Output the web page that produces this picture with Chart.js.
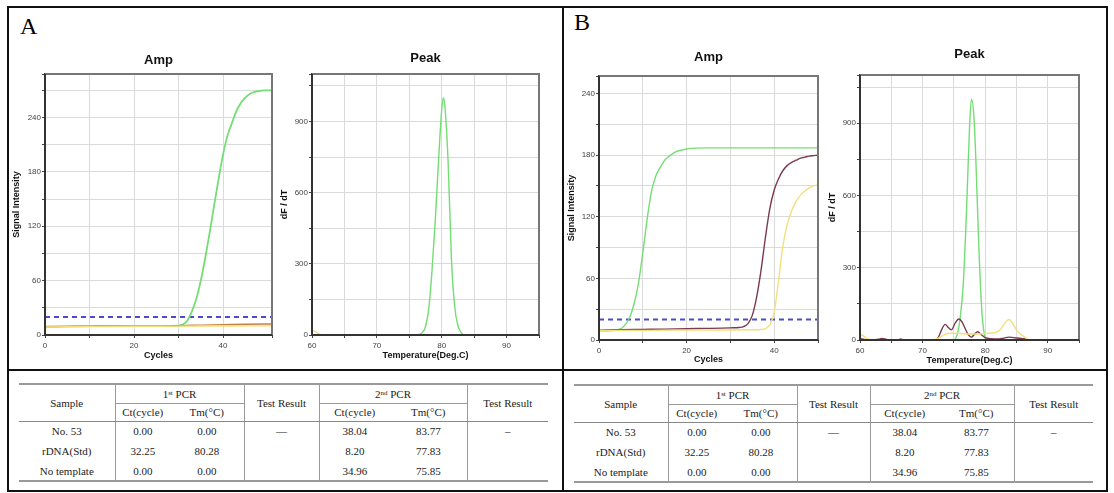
<!DOCTYPE html>
<html><head><meta charset="utf-8">
<script src="https://cdn.jsdelivr.net/npm/chart.js@4.4.0/dist/chart.umd.min.js"></script>
<style>
html,body{margin:0;padding:0;background:#fff;}
body{width:1114px;height:493px;overflow:hidden;position:relative;}
.ln{position:absolute;background:#111;}
.lbl{position:absolute;font-family:"Liberation Serif","Times New Roman",serif;font-size:24px;line-height:24px;color:#000;}
canvas{position:absolute;}
table.res{position:absolute;border-collapse:collapse;table-layout:fixed;font-family:"Liberation Serif","Times New Roman",serif;font-size:11px;color:#222;}
table.res td{text-align:center;padding:0;white-space:nowrap;overflow:hidden;}
table.res sup{font-size:7px;vertical-align:3px;line-height:0;}
</style>
</head><body>
<div class="ln" style="left:7px;top:6px;width:1101px;height:2px;"></div>
<div class="ln" style="left:7px;top:490px;width:1101px;height:2px;"></div>
<div class="ln" style="left:7px;top:6px;width:2px;height:486px;"></div>
<div class="ln" style="left:1106px;top:6px;width:2px;height:486px;"></div>
<div class="ln" style="left:562px;top:6px;width:2px;height:486px;"></div>
<div class="ln" style="left:7px;top:369px;width:1101px;height:2px;"></div>
<div class="lbl" style="left:20px;top:14px;">A</div>
<div class="lbl" style="left:574px;top:10px;">B</div>

<canvas id="ampA"></canvas>
<canvas id="peakA"></canvas>
<canvas id="ampB"></canvas>
<canvas id="peakB"></canvas>

<script>
// ---------- DATA ----------
// Panel A – Amp (cycles / signal intensity)
const ampA_rdna_cyc = [0,5,10,15,20,25,30,31,32,33,34,35,36,37,38,39,40,41,42,43,44,45,46,47,48,49,50,51];
const ampA_rdna_sig = [9.2,9.5,9.8,10,10,10.1,10.4,11.5,16,26,40,60,85,113,143,172,199,220,234,247,256,262,266,268,269,270,270,270];
const ampA_no53_cyc = [0,10,20,30,40,51];
const ampA_no53_sig = [9,9.3,9.6,9.8,10,10.2];
const ampA_ntc_cyc  = [0,5,10,15,20,25,30,35,40,45,51];
const ampA_ntc_sig  = [9.2,9.5,9.8,10,10,10.1,10.4,10.9,11.4,11.9,12.2];

// Panel A – Peak (temperature / dF/dT)
const peakA_rdna_t = [60,65,70,75,76,76.5,77,77.5,78,78.5,79,79.5,80,80.25,80.5,81,81.5,82,82.5,83,83.5,85,90,95];
const peakA_rdna_v = [0,0,0,0,0,2,10,35,110,270,480,730,950,1000,960,720,320,120,40,10,0,0,0,0];
const peakA_no53_t = [60,60.5,61,61.5,62,95];
const peakA_no53_v = [20,14,6,1,0,0];
const peakA_ntc_t  = [60,95];
const peakA_ntc_v  = [0,0];

// Panel B – Amp
const ampB_rdna_cyc = [0,1,2,3,4,5,6,7,8,9,10,11,12,13,14,15,16,17,18,19,20,25,30,35,40,45,50];
const ampB_rdna_sig = [9,9,9,9.2,9.8,11,15,22,35,55,85,118,145,160,168,175,179,182,184,185,186,187,187,187,187,187,187];
const ampB_ntc_cyc  = [0,5,10,15,20,25,30,32,33,34,35,36,37,38,39,40,41,42,43,44,45,46,47,48,49,50];
const ampB_ntc_sig  = [9.5,10,10.3,10.6,11,11.3,11.8,12.2,13,16,24,42,68,100,128,146,157,165,170,173,175,177,178,179,179.5,180];
const ampB_no53_cyc = [0,10,20,30,35,37,38,39,40,41,42,43,44,45,46,47,48,49,50];
const ampB_no53_sig = [9.2,9.4,9.6,9.8,10,10.2,11,15,27,58,92,113,126,135,141,145,148,150,151];

// Panel B – Peak
const peakB_rdna_t = [60,70,74,75,75.5,76,76.5,77,77.5,77.8,78.2,78.5,79,79.5,80,80.3,85,95];
const peakB_rdna_v = [0,0,0,0,20,90,230,520,880,1000,930,760,380,110,10,0,0,0];
const peakB_ntc_t  = [60,60.5,61,62,63,63.5,64,64.5,66,66.5,67,72,72.5,73,73.6,74.1,74.6,75.2,75.8,76.3,76.8,77.3,77.8,78.3,78.8,79.4,80,81,82,83,83.8,84.5,85.5,86.2,86.7,87,95];
const peakB_ntc_v  = [5,3,1,0,3,6,4,0,0,4,0,0,10,40,65,52,42,70,87,75,48,22,12,24,34,22,10,5,4,8,12,10,7,5,2,0,0];
const peakB_no53_t = [60,60.5,61,61.5,62,71.5,72.5,73.5,74.5,75.5,76.5,77.5,78.5,79.5,80.5,81.5,82.5,83.2,83.8,84.5,85,85.5,86,86.7,87,95];
const peakB_no53_v = [22,18,8,2,0,0,8,22,28,28,26,25,25,26,28,30,45,72,85,65,42,28,18,5,0,0];

// threshold & axis ranges
const threshold = 20;
const ampA_xRange = [0,51], ampA_yRange = [0,288];
const ampB_xRange = [0,50], ampB_yRange = [0,257];
const peak_xRange = [60,95], peak_yRange = [0,1100];

// tick labels
const ampXLabels = [0,20,40];
const ampYLabels = [0,60,120,180,240];
const peakXLabels = [60,70,80,90];
const peakYLabels = [0,300,600,900];

// table
const tblSamples = ['No. 53','rDNA(Std)','No template'];
const tblCt1 = ['0.00','32.25','0.00'];
const tblTm1 = ['0.00','80.28','0.00'];
const tblRes1 = ['\u2014','',''];
const tblCt2 = ['38.04','8.20','34.96'];
const tblTm2 = ['83.77','77.83','75.85'];
const tblRes2 = ['\u2013','',''];

// ---------- STYLE ----------
const C_GREEN = '#74dd74', C_MAROON = '#7a3a50', C_YELLOW = '#f2e07a', C_ORANGE = '#c8823c', C_THR = '#4a4ad2';
const FONT = '"Liberation Sans", Arial, sans-serif';

function pts(xs, ys){ return xs.map((x,i)=>({x:x, y:ys[i]})); }
function ser(xs, ys, color, w){ return {data:pts(xs,ys), borderColor:color, borderWidth:w||1.4, pointRadius:0, fill:false, cubicInterpolationMode:'monotone'}; }

const framePlugin = {
  id:'frame',
  afterDatasetsDraw(chart){
    const {ctx, chartArea:a} = chart;
    ctx.save();
    ctx.lineWidth = 2;
    ctx.strokeStyle = '#777';
    ctx.beginPath(); ctx.moveTo(a.left, a.top); ctx.lineTo(a.right, a.top); ctx.lineTo(a.right, a.bottom); ctx.stroke();
    ctx.strokeStyle = '#333';
    ctx.beginPath(); ctx.moveTo(a.left, a.top); ctx.lineTo(a.left, a.bottom); ctx.lineTo(a.right, a.bottom); ctx.stroke();
    ctx.restore();
  }
};

function makeChart(id, L, T, R, B, yTitleX, xTitleY, titleY, title, xTitle, yTitle, xr, yr, xStep, yStep, xLabels, yLabels, datasets){
  const left = Math.round(yTitleX - 6.4);
  const top = Math.round(titleY - 9.8);
  const right = R + 3;
  const bottom = Math.round(xTitleY + 6.4);
  const W = L - left, H = bottom - B;
  const cv = document.getElementById(id);
  cv.width = right - left; cv.height = bottom - top;
  cv.style.left = left + 'px'; cv.style.top = top + 'px';
  cv.style.width = (right-left) + 'px'; cv.style.height = (bottom-top) + 'px';
  const tPadTop = titleY - top - 7.8;
  const tPadBot = T - top - 15.6 - tPadTop;
  return new Chart(cv, {
    type:'line',
    data:{datasets:datasets},
    plugins:[framePlugin],
    options:{
      responsive:false, animation:false, devicePixelRatio:1,
      layout:{padding:{left:0, right:3, top:0, bottom:0}},
      plugins:{
        legend:{display:false}, tooltip:{enabled:false},
        title:{display:true, text:title, fullSize:false, color:'#111', font:{family:FONT, size:13, weight:'bold'}, padding:{top:tPadTop, bottom:tPadBot}}
      },
      scales:{
        x:{type:'linear', min:xr[0], max:xr[1],
           afterFit:(s)=>{ s.height = H; },
           grid:{color:'#dadada', lineWidth:1, tickLength:3, tickColor:'#444', drawTicks:true},
           border:{display:true, color:'#333', width:2},
           ticks:{stepSize:xStep, autoSkip:false, maxRotation:0, padding:3, color:'#444', font:{family:FONT, size:8},
                  callback:(v)=> xLabels.includes(v) ? String(v) : ''},
           title:{display:true, text:xTitle, color:'#111', font:{family:FONT, size:9, weight:'bold'}, padding:{top:0, bottom: bottom - xTitleY - 5.4}}
        },
        y:{type:'linear', min:yr[0], max:yr[1],
           afterFit:(s)=>{ s.width = W; },
           grid:{color:'#dadada', lineWidth:1, tickLength:3, tickColor:'#444', drawTicks:true},
           border:{display:true, color:'#333', width:2},
           ticks:{stepSize:yStep, autoSkip:false, padding:1, color:'#444', font:{family:FONT, size:8},
                  callback:(v)=> yLabels.includes(v) ? String(v) : ''},
           title:{display:true, text:yTitle, color:'#111', font:{family:FONT, size:9, weight:'bold'}, padding:{top: yTitleX - left - 5.4, bottom:0}}
        }
      }
    }
  });
}

function thr(xr){ return {data:[{x:xr[0],y:threshold},{x:xr[1],y:threshold}], borderColor:C_THR, borderWidth:2, borderDash:[5,4], pointRadius:0, fill:false}; }

makeChart('ampA', 45,74,272,335, 17,356,60, 'Amp','Cycles','Signal Intensity', ampA_xRange, ampA_yRange, 10, 30, ampXLabels, ampYLabels, [
  ser(ampA_no53_cyc, ampA_no53_sig, C_YELLOW),
  ser(ampA_ntc_cyc, ampA_ntc_sig, C_ORANGE),
  ser(ampA_rdna_cyc, ampA_rdna_sig, C_GREEN, 1.8),
  thr(ampA_xRange)
]);
makeChart('peakA', 312,74,539,335, 285,356,58, 'Peak','Temperature(Deg.C)','dF / dT', peak_xRange, peak_yRange, 5, 150, peakXLabels, peakYLabels, [
  ser(peakA_ntc_t, peakA_ntc_v, C_MAROON),
  ser(peakA_no53_t, peakA_no53_v, C_YELLOW),
  ser(peakA_rdna_t, peakA_rdna_v, C_GREEN)
]);
makeChart('ampB', 599,76,818,340, 572,360,57, 'Amp','Cycles','Signal Intensity', ampB_xRange, ampB_yRange, 10, 30, ampXLabels, ampYLabels, [
  ser(ampB_no53_cyc, ampB_no53_sig, C_YELLOW),
  ser(ampB_ntc_cyc, ampB_ntc_sig, C_MAROON),
  ser(ampB_rdna_cyc, ampB_rdna_sig, C_GREEN),
  thr(ampB_xRange)
]);
makeChart('peakB', 860,75,1079,340, 833,361,54, 'Peak','Temperature(Deg.C)','dF / dT', peak_xRange, peak_yRange, 5, 150, peakXLabels, peakYLabels, [
  ser(peakB_no53_t, peakB_no53_v, C_YELLOW),
  ser(peakB_ntc_t, peakB_ntc_v, C_MAROON),
  ser(peakB_rdna_t, peakB_rdna_v, C_GREEN)
]);

// ---------- TABLES ----------
function makeTable(x0, cols, top){
  const tb = document.createElement('table');
  tb.className = 'res';
  tb.style.left = x0 + 'px'; tb.style.top = top + 'px';
  const total = cols.reduce((a,b)=>a+b,0);
  tb.style.width = total + 'px';
  const cg = document.createElement('colgroup');
  cols.forEach(w=>{ const c=document.createElement('col'); c.style.width=w+'px'; cg.appendChild(c); });
  tb.appendChild(cg);
  const G = '1px solid #9a9a9a', TOPL = '2px solid #999', HB = '1px solid #888', BOT = '2px solid #999';
  let h = '<tr style="height:19px">'
    + `<td rowspan="2" style="border-top:${TOPL};border-right:${G};border-bottom:${HB}">Sample</td>`
    + `<td colspan="2" style="border-top:${TOPL};border-right:${G};border-bottom:${G}">1<sup>st</sup> PCR</td>`
    + `<td rowspan="2" style="border-top:${TOPL};border-right:${G};border-bottom:${HB}">Test Result</td>`
    + `<td colspan="2" style="border-top:${TOPL};border-right:${G};border-bottom:${G}">2<sup>nd</sup> PCR</td>`
    + `<td rowspan="2" style="border-top:${TOPL};border-bottom:${HB}">Test Result</td></tr>`;
  h += '<tr style="height:18px">'
    + `<td style="border-bottom:${HB}">Ct(cycle)</td><td style="border-right:${G};border-bottom:${HB}">Tm(\u00B0C)</td>`
    + `<td style="border-bottom:${HB}">Ct(cycle)</td><td style="border-right:${G};border-bottom:${HB}">Tm(\u00B0C)</td></tr>`;
  for(let i=0;i<tblSamples.length;i++){
    const bb = i===tblSamples.length-1 ? `border-bottom:${BOT};` : '';
    h += '<tr style="height:20px">'
      + `<td style="border-right:${G};${bb}">${tblSamples[i]}</td>`
      + `<td style="${bb}">${tblCt1[i]}</td>`
      + `<td style="border-right:${G};${bb}">${tblTm1[i]}</td>`
      + `<td style="border-right:${G};${bb}">${tblRes1[i]}</td>`
      + `<td style="${bb}">${tblCt2[i]}</td>`
      + `<td style="border-right:${G};${bb}">${tblTm2[i]}</td>`
      + `<td style="${bb}">${tblRes2[i]}</td></tr>`;
  }
  tb.innerHTML += h;
  document.body.appendChild(tb);
}
makeTable(19, [96,55,74,75,71,77,81], 383);
makeTable(574, [94,57,72,73,69,75,79], 384);
</script>
</body></html>
